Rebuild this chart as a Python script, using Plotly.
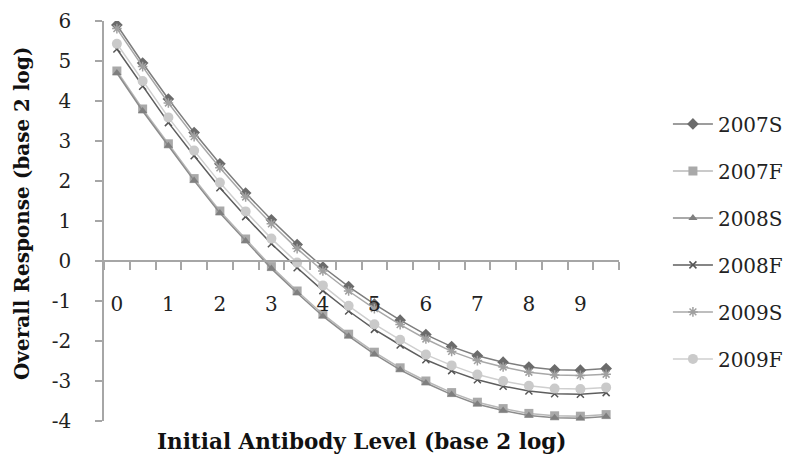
import plotly.graph_objects as go

x_levels = [0, 0.5, 1, 1.5, 2, 2.5, 3, 3.5, 4, 4.5, 5, 5.5, 6, 6.5, 7, 7.5, 8, 8.5, 9, 9.5]

s2007S = [5.90, 4.95, 4.05, 3.21, 2.43, 1.70, 1.03, 0.41, -0.15, -0.64, -1.08, -1.48, -1.84, -2.14, -2.37, -2.53, -2.65, -2.72, -2.73, -2.69]
s2007F = [4.75, 3.80, 2.93, 2.06, 1.25, 0.55, -0.14, -0.75, -1.33, -1.83, -2.28, -2.67, -3.00, -3.29, -3.53, -3.69, -3.81, -3.87, -3.88, -3.84]
s2008S = [4.70, 3.75, 2.88, 2.01, 1.20, 0.50, -0.19, -0.80, -1.38, -1.88, -2.33, -2.72, -3.05, -3.34, -3.58, -3.74, -3.86, -3.92, -3.93, -3.89]
s2008F = [5.30, 4.37, 3.46, 2.63, 1.83, 1.11, 0.43, -0.17, -0.74, -1.25, -1.71, -2.10, -2.47, -2.74, -2.97, -3.13, -3.25, -3.32, -3.33, -3.29]
s2009S = [5.81, 4.86, 3.95, 3.11, 2.33, 1.60, 0.93, 0.31, -0.25, -0.75, -1.19, -1.59, -1.95, -2.26, -2.49, -2.65, -2.78, -2.85, -2.86, -2.83]
s2009F = [5.43, 4.50, 3.59, 2.76, 1.96, 1.24, 0.56, -0.04, -0.61, -1.12, -1.58, -1.97, -2.34, -2.61, -2.84, -3.00, -3.12, -3.19, -3.20, -3.16]

x_tick_vals = [0, 1, 2, 3, 4, 5, 6, 7, 8, 9]
x_tick_text = ["0", "1", "2", "3", "4", "5", "6", "7", "8", "9"]
x_boundaries = [-0.25, 0.25, 0.75, 1.25, 1.75, 2.25, 2.75, 3.25, 3.75, 4.25, 4.75, 5.25, 5.75,
                6.25, 6.75, 7.25, 7.75, 8.25, 8.75, 9.25, 9.75]
y_tick_vals = [-4, -3, -2, -1, 0, 1, 2, 3, 4, 5, 6]
y_tick_text = ["-4", "-3", "-2", "-1", "0", "1", "2", "3", "4", "5", "6"]

series = [
    ("2007S", s2007S, "diamond", "#6b6b6b", "#7d7d7d", 9),
    ("2007F", s2007F, "square", "#a9a9a9", "#b8b8b8", 9),
    ("2008S", s2008S, "triangle-up", "#7f7f7f", "#8c8c8c", 8),
    ("2008F", s2008F, "x-thin-open", "#555555", "#5e5e5e", 7),
    ("2009S", s2009S, "asterisk-open", "#a0a0a0", "#a8a8a8", 8),
    ("2009F", s2009F, "circle", "#cacaca", "#cfcfcf", 10),
]

FONT = "DejaVu Serif"

fig = go.Figure()
for i, (name, ys, sym, mcol, lcol, msize) in enumerate(series):
    marker = dict(symbol=sym, size=msize, color=mcol)
    if sym.endswith("open"):
        marker["line"] = dict(color=mcol, width=1.5)
    fig.add_trace(go.Scatter(
        x=x_levels, y=ys, name=name, mode="lines+markers",
        line=dict(color=lcol, width=1.5), marker=marker,
        legendgroup=name,
    ))

fig.update_layout(
    width=785, height=452,
    margin=dict(l=96, r=174, t=13, b=39, autoexpand=False),
    paper_bgcolor="white", plot_bgcolor="white",
    font=dict(family=FONT, size=20, color="#222222"),
    showlegend=True,
    legend=dict(
        x=1.095, y=0.449, xanchor="left", yanchor="middle",
        font=dict(family=FONT, size=20, color="#222222"),
        tracegroupgap=18, itemwidth=40, bgcolor="rgba(0,0,0,0)",
    ),
    xaxis=dict(
        range=[-0.25, 9.75], anchor="free", position=0.4, automargin=False,
        showgrid=False, zeroline=False,
        showline=True, linecolor="#a6a6a6", linewidth=1.5,
        tickmode="array", tickvals=x_tick_vals, ticktext=x_tick_text,
        ticks="", ticklabelstandoff=25,
        tickfont=dict(family=FONT, size=20, color="#222222"),
        minor=dict(tickmode="array", tickvals=x_boundaries, ticks="outside",
                   ticklen=8, tickcolor="#a6a6a6", tickwidth=1.5),
    ),
    yaxis=dict(
        range=[-4, 6], showgrid=False, zeroline=False, automargin=False,
        showline=True, linecolor="#a6a6a6", linewidth=1.5,
        tickmode="array", tickvals=y_tick_vals, ticktext=y_tick_text,
        ticks="outside", ticklen=7, tickcolor="#a6a6a6", tickwidth=1.5,
        ticklabelstandoff=20,
        tickfont=dict(family=FONT, size=20, color="#222222"),
    ),
    annotations=[
        dict(text="<b>Initial Antibody Level (base 2 log)</b>", xref="paper", yref="paper",
             x=0.5, y=-0.05, xanchor="center", yanchor="middle", showarrow=False,
             font=dict(family=FONT, size=21.5, color="#111111")),
        dict(text="<b>Overall Response (base 2 log)</b>", xref="paper", yref="paper",
             x=-0.159, y=0.5175, xanchor="center", yanchor="middle", textangle=-90,
             showarrow=False, font=dict(family=FONT, size=20, color="#111111")),
    ],
)

fig.write_html("out.html")
